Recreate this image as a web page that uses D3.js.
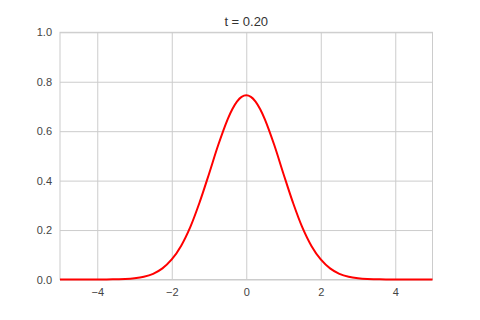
<!DOCTYPE html>
<html>
<head>
<meta charset="utf-8">
<script src="https://cdn.jsdelivr.net/npm/d3@7"></script>
<style>
  body { margin: 0; background: #fff; }
  svg { display: block; font-family: "Liberation Sans", Arial, sans-serif; }
</style>
</head>
<body>
<svg id="chart" width="480" height="320"></svg>
<script>
const title = "t = 0.20";
const xTicks = [-4, -2, 0, 2, 4];
const yTicks = [0.0, 0.2, 0.4, 0.6, 0.8, 1.0];
const xValues = [-5, -4.75, -4.5, -4.25, -4, -3.75, -3.5, -3.25, -3, -2.75, -2.5, -2.25, -2, -1.75, -1.5, -1.25, -1, -0.75, -0.5, -0.375, -0.25, -0.125,
                 0, 0.125, 0.25, 0.375, 0.5, 0.75, 1, 1.25, 1.5, 1.75, 2, 2.25, 2.5, 2.75, 3, 3.25, 3.5, 3.75, 4, 4.25, 4.5, 4.75, 5];
const uValues = [0.000, 0.000, 0.000, 0.000, 0.000, 0.000, 0.001, 0.002, 0.005, 0.011, 0.023, 0.045, 0.081, 0.136, 0.213, 0.313, 0.427, 0.545, 0.648, 0.689, 0.720, 0.739,
                 0.745, 0.739, 0.720, 0.689, 0.648, 0.545, 0.427, 0.313, 0.213, 0.136, 0.081, 0.045, 0.023, 0.011, 0.005, 0.002, 0.001, 0.000, 0.000, 0.000, 0.000, 0.000, 0.000];

const svg = d3.select("#chart");
const margin = {left: 60, right: 47.5, top: 32.3, bottom: 40.5};
const W = 480, H = 320;
const x = d3.scaleLinear().domain([-5, 5]).range([margin.left, W - margin.right]);
const y = d3.scaleLinear().domain([0, 1]).range([H - margin.bottom, margin.top]);

const grid = "#cccccc";
const textColor = "#444444";

// grid
const gx = svg.append("g")
  .attr("transform", `translate(0,${H - margin.bottom})`)
  .call(d3.axisBottom(x).tickValues(xTicks).tickSize(-(H - margin.bottom - margin.top)).tickPadding(9)
        .tickFormat(d => d3.format("d")(d).replace("-", "\u2212")));
gx.select(".domain").remove();
gx.selectAll(".tick line").attr("stroke", grid).attr("stroke-width", 1);
gx.selectAll(".tick text").attr("fill", textColor).attr("font-size", 11).attr("dy", "0.71em");

const gy = svg.append("g")
  .attr("transform", `translate(${margin.left},0)`)
  .call(d3.axisLeft(y).tickValues(yTicks).tickSize(-(W - margin.left - margin.right)).tickPadding(8)
        .tickFormat(d3.format(".1f")));
gy.select(".domain").remove();
gy.selectAll(".tick line").attr("stroke", grid).attr("stroke-width", 1);
gy.selectAll(".tick text").attr("fill", textColor).attr("font-size", 11);

// frame
svg.append("rect")
  .attr("x", x(-5)).attr("y", y(1))
  .attr("width", x(5) - x(-5)).attr("height", y(0) - y(1))
  .attr("fill", "none").attr("stroke", grid).attr("stroke-width", 1);

// curve
const line = d3.line()
  .x((d, i) => x(xValues[i]))
  .y(d => y(d))
  .curve(d3.curveCatmullRom.alpha(0.5));
svg.append("path")
  .datum(uValues)
  .attr("d", line)
  .attr("fill", "none")
  .attr("stroke", "#ff0000")
  .attr("stroke-width", 2);

// title
svg.append("text")
  .attr("x", (x(-5) + x(5)) / 2)
  .attr("y", 26.3)
  .attr("text-anchor", "middle")
  .attr("font-size", 13)
  .attr("fill", "#333333")
  .text(title);
</script>
</body>
</html>
